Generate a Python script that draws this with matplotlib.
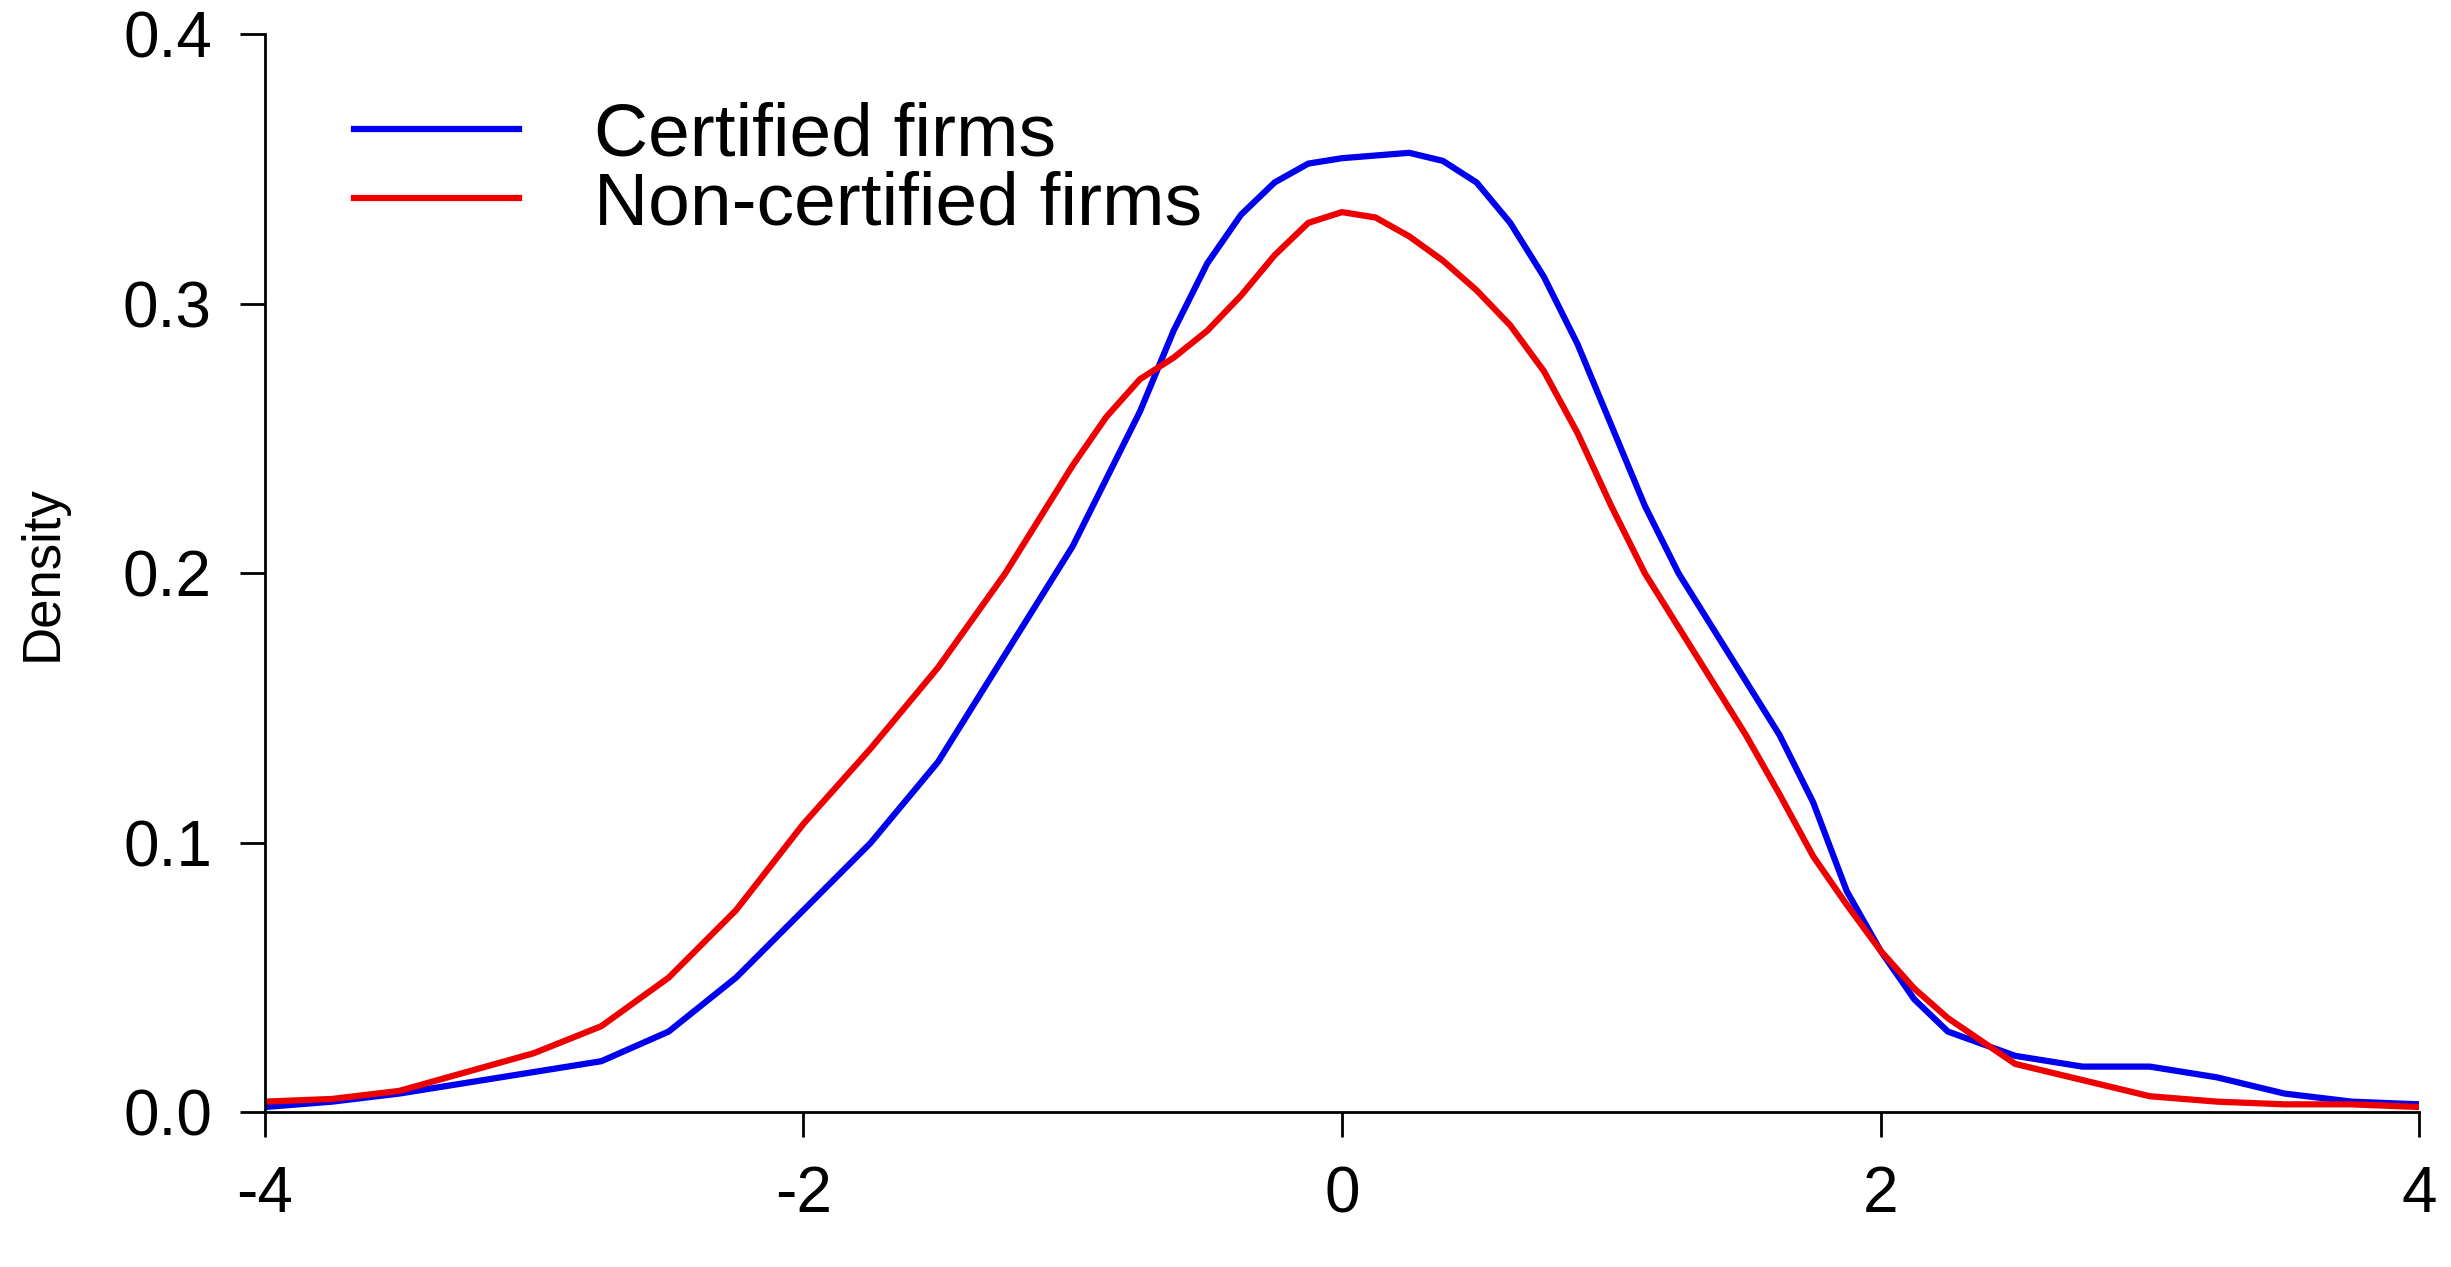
import matplotlib
matplotlib.use("Agg")
import matplotlib.pyplot as plt

x = [-4,-3.75,-3.5,-3.25,-3,-2.75,-2.5,-2.25,-2,-1.75,-1.5,-1.25,-1,-0.875,-0.75,-0.625,-0.5,-0.375,-0.25,-0.125,0,0.125,0.25,0.375,0.5,0.625,0.75,0.875,1,1.125,1.25,1.375,1.5,1.625,1.75,1.875,2,2.125,2.25,2.5,2.75,3,3.25,3.5,3.75,4]
certified = [0.002,0.004,0.007,0.011,0.015,0.019,0.03,0.05,0.075,0.1,0.13,0.17,0.21,0.235,0.26,0.29,0.315,0.333,0.345,0.352,0.354,0.355,0.356,0.353,0.345,0.33,0.31,0.285,0.255,0.225,0.2,0.18,0.16,0.14,0.115,0.082,0.06,0.042,0.03,0.021,0.017,0.017,0.013,0.007,0.004,0.003]
noncert = [0.004,0.005,0.008,0.015,0.022,0.032,0.05,0.075,0.107,0.135,0.165,0.2,0.24,0.258,0.272,0.28,0.29,0.303,0.318,0.33,0.334,0.332,0.325,0.316,0.305,0.292,0.275,0.252,0.225,0.2,0.18,0.16,0.14,0.118,0.095,0.077,0.06,0.046,0.035,0.018,0.012,0.006,0.004,0.003,0.003,0.002]
labels = ["Certified firms", "Non-certified firms"]

plt.rcParams['font.family'] = ['Liberation Sans', 'DejaVu Sans']
plt.rcParams['axes.unicode_minus'] = False
fig = plt.figure(figsize=(24.51, 12.67), dpi=100)
ax = fig.add_axes([0.108, 0.122, 0.879, 0.851])
ax.plot(x, certified, color='#0000ee', lw=4.5, label=labels[0])
ax.plot(x, noncert, color='#ee0000', lw=4.5, label=labels[1])
ax.set_xlim(-4, 4)
ax.set_ylim(0, 0.4)
ax.set_xticks([-4, -2, 0, 2, 4])
ax.set_yticks([0, 0.1, 0.2, 0.3, 0.4])
ax.set_yticklabels(["0.0", "0.1", "0.2", "0.3", "0.4"])
for s in ['top', 'right']:
    ax.spines[s].set_visible(False)
for s in ['left', 'bottom']:
    ax.spines[s].set_linewidth(2)
ax.tick_params(labelsize=46, length=18, width=2, pad=20)
ax.set_ylabel("Density", fontsize=38, labelpad=40)
ax.legend(loc='upper left', bbox_to_anchor=(0.01, 1.0), frameon=False, fontsize=54,
          handlelength=2.2, handletextpad=1.0, labelspacing=0.0)
fig.savefig("out.png")
